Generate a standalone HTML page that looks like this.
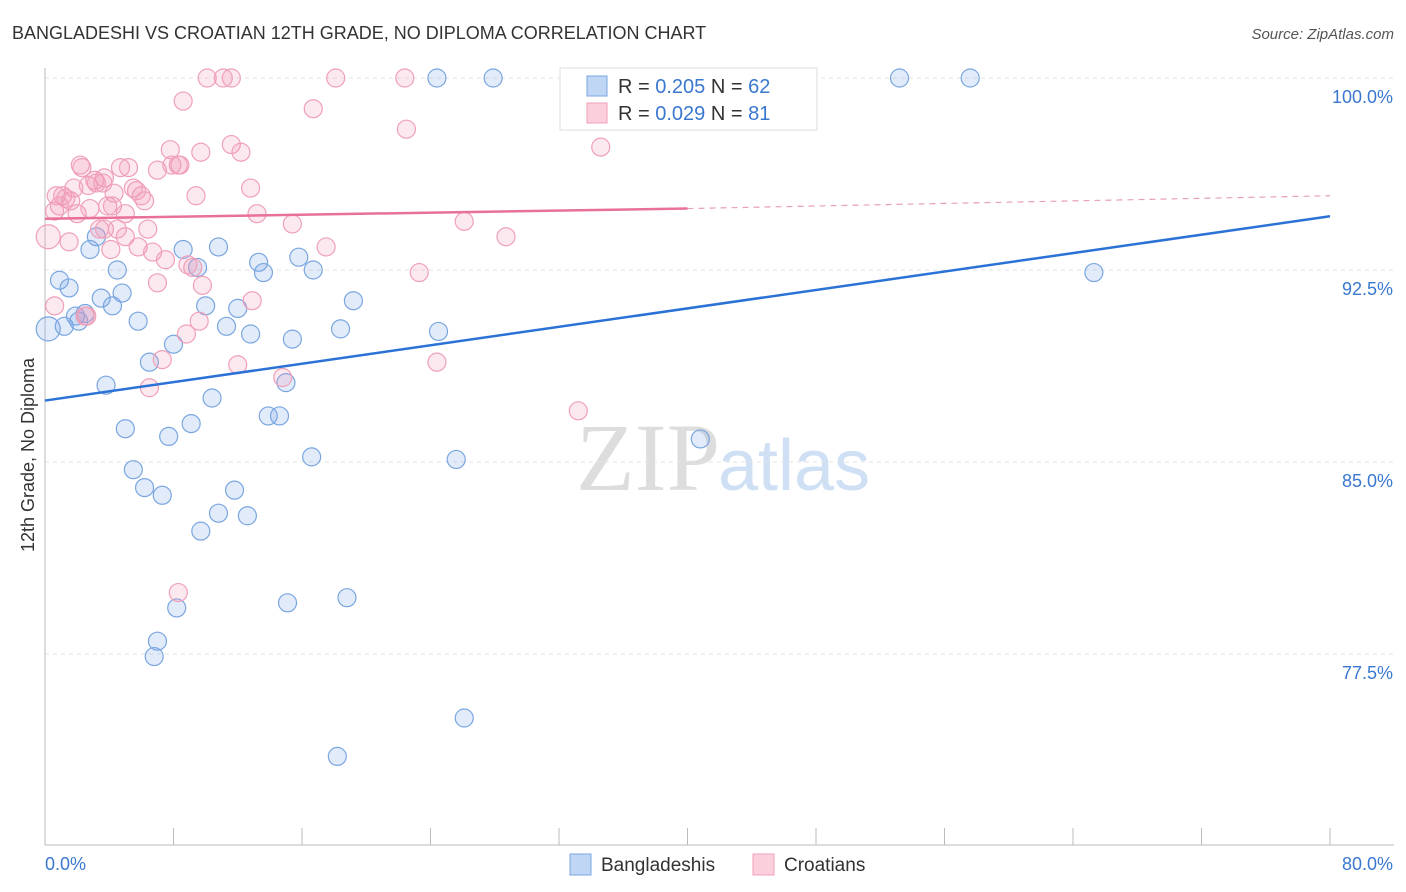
<!DOCTYPE html>
<html><head><meta charset="utf-8"><style>
body{margin:0;background:#fff;font-family:"Liberation Sans",sans-serif}
svg{display:block}
</style></head><body>
<svg width="1406" height="892" id="chart">
<text x="12" y="39" font-size="18" fill="#333">BANGLADESHI VS CROATIAN 12TH GRADE, NO DIPLOMA CORRELATION CHART</text>
<text x="1394" y="39" font-size="15" fill="#555" font-style="italic" text-anchor="end">Source: ZipAtlas.com</text>
<text x="720" y="490" font-size="96" fill="#ddd" text-anchor="end" font-family="Liberation Serif">ZIP</text>
<text x="718" y="490" font-size="72" fill="#cfe0f5">atlas</text>
<text transform="translate(34,455) rotate(-90)" font-size="18" fill="#333" text-anchor="middle">12th Grade, No Diploma</text>
<g id="grid"></g><g id="axes"></g><g id="marks"></g><g id="lines"></g>
<g>
<rect x="560" y="68" width="257" height="62" fill="#fff" stroke="#ddd"/>
<rect x="587" y="76" width="20" height="20" fill="#c0d6f5" stroke="#7aa6e0"/>
<text x="618" y="93" font-size="20" fill="#333">R = <tspan fill="#3a78d0">0.205</tspan>   N = <tspan fill="#3a78d0">62</tspan></text>
<rect x="587" y="103" width="20" height="20" fill="#fbcfdc" stroke="#f0a0b8"/>
<text x="618" y="120" font-size="20" fill="#333">R = <tspan fill="#3a78d0">0.029</tspan>   N = <tspan fill="#3a78d0">81</tspan></text>
</g>
<g>
<rect x="570" y="854" width="21" height="21" fill="#c0d6f5" stroke="#7aa6e0"/>
<text x="601" y="871" font-size="19" fill="#333">Bangladeshis</text>
<rect x="753" y="854" width="21" height="21" fill="#fbcfdc" stroke="#f0a0b8"/>
<text x="784" y="871" font-size="19" fill="#333">Croatians</text>
</g>
</svg>
<script>
const yTicks=[100,92.5,85,77.5];
const yTickLabels=["100.0%","92.5%","85.0%","77.5%"];
const xTickCount=10;
const blueX=[24.4,27.9,53.2,57.6,65.3,40.8,0.2,0.9,1.5,1.9,2.5,2.1,1.2,2.8,3.2,4.5,3.5,4.2,4.8,3.8,5.8,6.5,5.0,5.5,6.2,7.3,7.7,8.0,8.6,9.5,9.1,10.0,10.4,10.8,11.3,12.0,12.8,13.3,13.6,15.4,15.8,16.7,15.0,13.9,14.6,16.6,18.4,19.2,24.5,25.6,11.8,10.8,12.6,9.7,8.2,7.0,6.8,15.1,18.8,26.1,18.2];
const blueY=[100,100,100,100,92.4,85.9,90.2,92.1,91.8,90.7,90.8,90.5,90.3,93.3,93.8,92.5,91.4,91.1,91.6,88.0,90.5,88.9,86.3,84.7,84.0,83.7,86.0,89.6,93.3,92.6,86.5,91.1,87.5,93.4,90.3,91.0,90.0,92.8,92.4,89.8,93.0,92.5,88.1,86.8,86.8,85.2,90.2,91.3,90.1,85.1,83.9,83.0,82.9,82.3,79.3,78.0,77.4,79.5,79.7,75.0,73.5];
const pinkX=[10.1,11.1,11.6,18.1,22.4,36.9,8.6,16.7,22.5,34.6,7.8,9.7,11.6,12.2,2.2,2.3,4.7,5.2,7.9,7.0,8.4,12.8,3.1,3.7,2.7,1.8,0.7,1.1,1.6,0.9,0.6,2.0,2.8,3.9,4.2,5.0,5.7,6.0,6.2,4.3,9.4,13.2,15.4,0.2,1.5,3.4,3.7,4.5,5.0,5.8,6.4,6.7,7.5,8.9,9.2,7.0,9.8,12.9,9.6,8.8,2.6,7.3,6.5,12.0,14.8,17.5,26.1,28.7,23.3,24.4,33.2,8.3,0.6,2.5,5.5,3.2,3.6,1.3,4.1,8.3];
const pinkY=[100,100,100,100,100,100,99.1,98.8,98.0,97.3,97.2,97.1,97.4,97.1,96.6,96.5,96.5,96.5,96.6,96.4,96.6,95.7,96.0,96.1,95.8,95.7,95.4,95.4,95.2,95.0,94.8,94.7,94.9,95.0,95.0,94.7,95.6,95.4,95.2,95.5,95.4,94.7,94.3,93.8,93.6,94.1,94.1,94.1,93.8,93.4,94.1,93.2,92.9,92.7,92.6,92.0,91.9,91.3,90.5,90.0,90.7,89.0,87.9,88.8,88.3,93.4,94.4,93.8,92.4,88.9,87.0,79.9,91.1,90.7,95.7,95.9,95.9,95.3,93.3,96.6];
const blueTrend=[87.4,94.6];
const pinkTrend=[94.5,94.9,95.4];
const NS="http://www.w3.org/2000/svg";
function X(v){return 45+v/80*1285;}
function Y(v){return 78+(100-v)*25.6;}
function mk(tag,attrs,parent){const e=document.createElementNS(NS,tag);for(const k in attrs)e.setAttribute(k,attrs[k]);document.getElementById(parent).appendChild(e);return e;}
yTicks.forEach((t,i)=>{
 const g=mk('line',{x1:45,x2:1394,y1:Y(t),y2:Y(t),stroke:'#e3e3e3','stroke-dasharray':'4,4'},'grid');
 
 
 const l=mk('text',{x:1393,y:Y(t)+25,'font-size':18,fill:'#3a78d0','text-anchor':'end'},'axes');
 l.textContent=yTickLabels[i];
 
 
});
const ax=mk('line',{x1:45,x2:1394,y1:845,y2:845,stroke:'#bbb'},'axes');


const ay=mk('line',{x1:45,x2:45,y1:68,y2:845,stroke:'#bbb'},'axes');


for(let i=0;i<=xTickCount;i++){
 const t=mk('line',{x1:X(i*8),x2:X(i*8),y1:828,y2:845,stroke:'#bbb'},'axes');
 
 
}
const x0=mk('text',{x:45,y:870,'font-size':18,fill:'#3a78d0'},'axes');x0.textContent='0.0%';


const x1=mk('text',{x:1393,y:870,'font-size':18,fill:'#3a78d0','text-anchor':'end'},'axes');x1.textContent='80.0%';


function pts(xs,ys,fill,stroke,name){xs.forEach((v,i)=>{
 const r=(v<0.5)?12:9;
 const c=mk('circle',{cx:X(v),cy:Y(ys[i]),r:r,fill:fill,stroke:stroke,'stroke-width':1.2},'marks');
 
 
});}
pts(blueX,blueY,'rgba(120,165,230,0.22)','#7aa6e0','bangladeshi-point');
pts(pinkX,pinkY,'rgba(240,150,180,0.22)','#f0a0b8','croatian-point');
const bl=mk('line',{x1:X(0),y1:Y(blueTrend[0]),x2:X(80),y2:Y(blueTrend[1]),stroke:'#2a72d6','stroke-width':2.5},'lines');


const pl=mk('line',{x1:X(0),y1:Y(pinkTrend[0]),x2:X(40),y2:Y(pinkTrend[1]),stroke:'#e8709a','stroke-width':2.5},'lines');


const pd=mk('line',{x1:X(40),y1:Y(pinkTrend[1]),x2:X(80),y2:Y(pinkTrend[2]),stroke:'#e8a0b8','stroke-width':1.2,'stroke-dasharray':'6,5'},'lines');


</script>
</body></html>
